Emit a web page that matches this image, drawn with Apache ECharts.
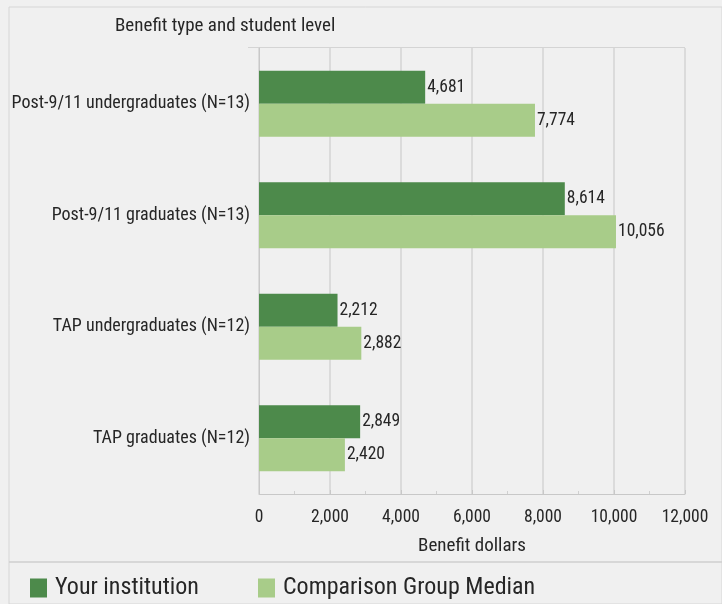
<!DOCTYPE html>
<html><head><meta charset="utf-8">
<script src="https://cdn.jsdelivr.net/npm/echarts@6/dist/echarts.min.js"></script>
<style>html,body{margin:0;padding:0;background:#fff}#c{width:722px;height:604px}</style>
</head><body><div id="c"></div>
<script>
const categories = ['Post-9/11 undergraduates (N=13)','Post-9/11 graduates (N=13)','TAP undergraduates (N=12)','TAP graduates (N=12)'];
const yourInstitution = [4681, 8614, 2212, 2849];
const comparisonMedian = [7774, 10056, 2882, 2420];
const xTicks = [0, 2000, 4000, 6000, 8000, 10000, 12000];
const seriesNames = ['Your institution', 'Comparison Group Median'];

const chart = echarts.init(document.getElementById('c'));
const font = 'Roboto Condensed';
const txt = '#262626';
const lbl = {show:true, position:'right', distance:2, color:txt, fontSize:17.5, fontFamily:font,
  formatter: p => p.value.toLocaleString('en-US')};
const legendText = {fontSize:24, fontFamily:font, color:txt, padding:[0,0,0,3]};
chart.setOption({
  backgroundColor:'#f0f0f0',
  animation:false,
  graphic:[
    {type:'rect', shape:{x:9,y:7,width:713,height:597}, style:{fill:'none', stroke:'#d6d6d6', lineWidth:1}},
    {type:'line', shape:{x1:9,y1:562,x2:722,y2:562}, style:{stroke:'#cfcfcf', lineWidth:1.5}},
    {type:'text', left:115, top:17, style:{text:'Benefit type and student level', fontSize:19, fontFamily:font, fill:txt}},
    {type:'rect', shape:{x:248,y:47,width:437,height:1}, style:{fill:'#d4d4d4'}}
  ],
  legend:[
    {left:30, top:576, padding:0, itemWidth:17, itemHeight:19, icon:'rect', textStyle:legendText, data:[seriesNames[0]]},
    {left:258, top:576, padding:0, itemWidth:17, itemHeight:19, icon:'rect', textStyle:legendText, data:[seriesNames[1]]}
  ],
  grid:{left:259, right:37, top:48, bottom:110, containLabel:false},
  xAxis:{type:'value', min:xTicks[0], max:xTicks[xTicks.length-1], interval:2000,
    name:'Benefit dollars', nameLocation:'middle', nameGap:43,
    nameTextStyle:{fontSize:19, fontFamily:font, color:txt},
    axisLine:{show:true, lineStyle:{color:'#c8c8c8'}},
    axisTick:{show:true, length:4, inside:true, lineStyle:{color:'#c8c8c8'}},
    minorTick:{show:true, splitNumber:2, length:3, lineStyle:{color:'#d0d0d0'}},
    axisLabel:{fontSize:17.5, fontFamily:font, color:txt, margin:15,
      formatter: v => v.toLocaleString('en-US')},
    splitLine:{show:true, lineStyle:{color:'#d4d4d4', width:1.5}}},
  yAxis:{type:'category', data:categories, inverse:true,
    axisLine:{show:true, lineStyle:{color:'#c8c8c8'}}, axisTick:{show:false},
    axisLabel:{fontSize:18, fontFamily:font, color:txt, margin:9}},
  series:[
    {name:seriesNames[0], type:'bar', data:yourInstitution, barWidth:33, barGap:'0%',
      itemStyle:{color:'#4d8a4b'}, label:lbl},
    {name:seriesNames[1], type:'bar', data:comparisonMedian, barWidth:33,
      itemStyle:{color:'#a8cc89'}, label:lbl}
  ]
});
</script></body></html>
